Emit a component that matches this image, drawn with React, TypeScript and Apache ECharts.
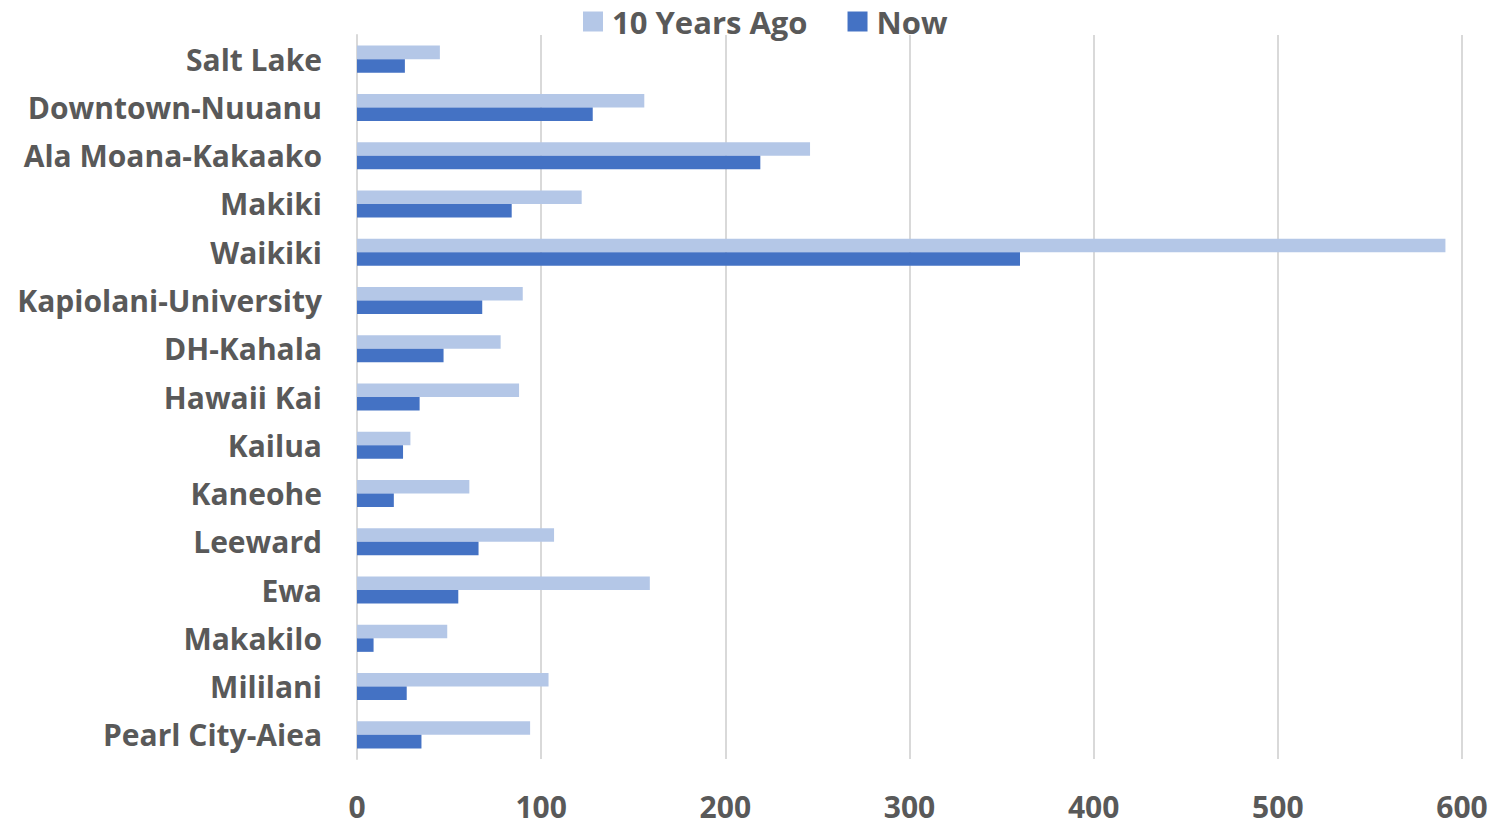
import React, { useEffect, useRef } from "react";
import * as echarts from "echarts";

// Neighbourhoods, top to bottom
const categories = [
  "Salt Lake",
  "Downtown-Nuuanu",
  "Ala Moana-Kakaako",
  "Makiki",
  "Waikiki",
  "Kapiolani-University",
  "DH-Kahala",
  "Hawaii Kai",
  "Kailua",
  "Kaneohe",
  "Leeward",
  "Ewa",
  "Makakilo",
  "Mililani",
  "Pearl City-Aiea",
];

const tenYearsAgo = [45, 156, 246, 122, 591, 90, 78, 88, 29, 61, 107, 159, 49, 104, 94];
const now = [26, 128, 219, 84, 360, 68, 47, 34, 25, 20, 66, 55, 9, 27, 35];

const xTicks = [0, 100, 200, 300, 400, 500, 600];

const LABEL_COLOR = "#595959";
const FONT = "'Open Sans', 'Noto Sans', sans-serif";

export default function App() {
  const ref = useRef<HTMLDivElement>(null);

  useEffect(() => {
    if (!ref.current) return;
    const chart = echarts.init(ref.current, undefined, { renderer: "svg" });
    chart.setOption({
      animation: false,
      backgroundColor: "#ffffff",
      textStyle: { fontFamily: FONT },
      legend: {
        left: 578,
        top: 1,
        itemWidth: 20,
        itemHeight: 20,
        itemGap: 40,
        icon: "rect",
        textStyle: {
          fontFamily: FONT,
          fontSize: 31,
          fontWeight: "bold",
          color: LABEL_COLOR,
          padding: [0, 0, 0, 4],
        },
        data: ["10 Years Ago", "Now"],
      },
      grid: { left: 357, right: 48, top: 35, bottom: 68 },
      xAxis: {
        type: "value",
        min: xTicks[0],
        max: xTicks[xTicks.length - 1],
        interval: 100,
        axisLine: { show: false },
        axisTick: { show: false },
        splitLine: { show: true, lineStyle: { color: "#d9d9d9", width: 2 } },
        axisLabel: {
          margin: 32,
          fontFamily: FONT,
          fontSize: 30,
          fontWeight: "bold",
          color: LABEL_COLOR,
        },
      },
      yAxis: {
        type: "category",
        inverse: true,
        data: categories,
        axisLine: { show: true, lineStyle: { color: "#d9d9d9", width: 2 } },
        axisTick: { show: false },
        axisLabel: {
          margin: 35,
          fontFamily: FONT,
          fontSize: 30,
          fontWeight: "bold",
          color: LABEL_COLOR,
          padding: [0, 0, 4, 0],
        },
      },
      series: [
        {
          name: "10 Years Ago",
          type: "bar",
          data: tenYearsAgo,
          barGap: "0%",
          barCategoryGap: "44%",
          itemStyle: { color: "#b4c7e7" },
        },
        {
          name: "Now",
          type: "bar",
          data: now,
          barGap: "0%",
          barCategoryGap: "44%",
          itemStyle: { color: "#4472c4" },
        },
      ],
    });
    return () => chart.dispose();
  }, []);

  return (
    <div
      ref={ref}
      style={{ position: "fixed", left: 0, top: 0, width: 1510, height: 827 }}
    />
  );
}
